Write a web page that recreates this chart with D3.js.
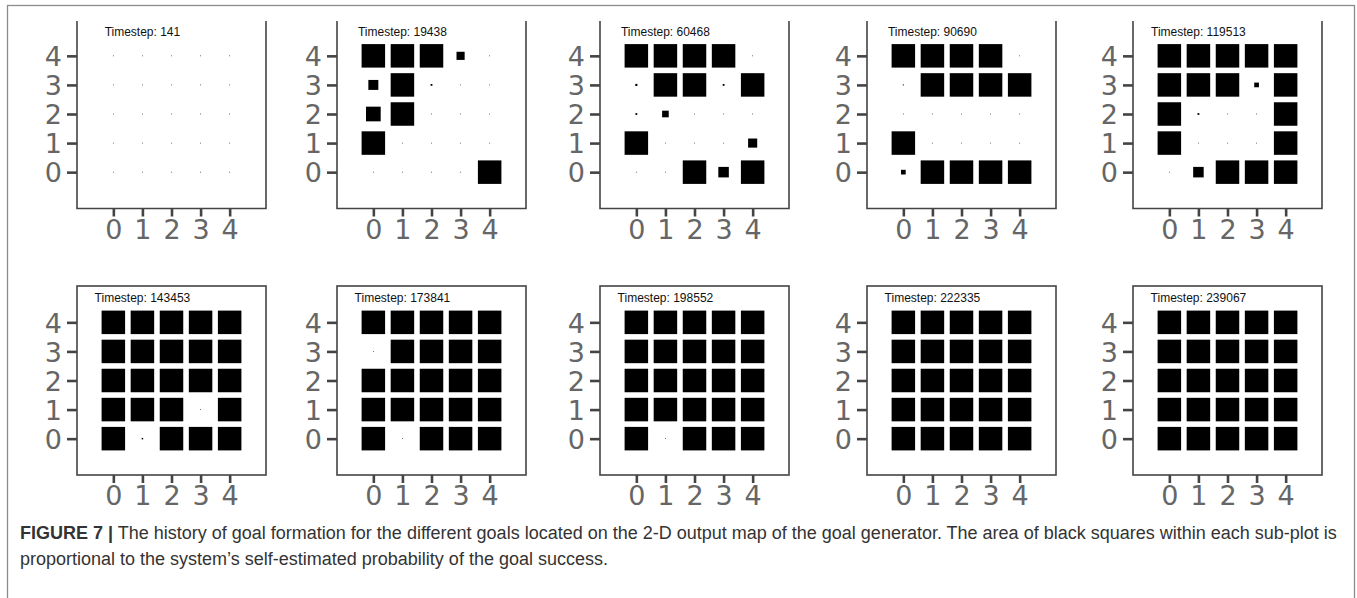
<!DOCTYPE html>
<html>
<head>
<meta charset="utf-8">
<script src="https://cdn.jsdelivr.net/npm/d3@7"></script>
<style>
  html, body { margin: 0; padding: 0; background: #fff; }
  svg { display: block; }
</style>
</head>
<body>
<svg id="chart" width="1357" height="598"></svg>
<script>
// ---------------- DATA ----------------
const timesteps = [141, 19438, 60468, 90690, 119513, 143453, 173841, 198552, 222335, 239067];
const xTicks = [0, 1, 2, 3, 4];
const yTicks = [0, 1, 2, 3, 4];
// grid rows listed from y = 4 (top) down to y = 0; columns x = 0..4
const gridRowsY = [4, 3, 2, 1, 0];
const gridColsX = [0, 1, 2, 3, 4];

// self-estimated probability of goal success (area of square)
const p141 = [
  [0.001, 0.001, 0.001, 0.001, 0.001],
  [0.001, 0.001, 0.001, 0.001, 0.001],
  [0.001, 0.001, 0.001, 0.001, 0.001],
  [0.001, 0.001, 0.001, 0.001, 0.001],
  [0.001, 0.001, 0.001, 0.001, 0.001]
];
const p19438 = [
  [1.00, 1.00, 1.00, 0.12, 0.001],
  [0.18, 1.00, 0.006, 0.001, 0.001],
  [0.39, 1.00, 0.001, 0.001, 0.001],
  [1.00, 0.001, 0.001, 0.001, 0.001],
  [0.001, 0.001, 0.001, 0.001, 1.00]
];
const p60468 = [
  [1.00, 1.00, 1.00, 1.00, 0.001],
  [0.008, 1.00, 1.00, 0.006, 1.00],
  [0.006, 0.08, 0.001, 0.001, 0.001],
  [1.00, 0.001, 0.001, 0.001, 0.15],
  [0.001, 0.001, 1.00, 0.20, 1.00]
];
const p90690 = [
  [1.00, 1.00, 1.00, 1.00, 0.001],
  [0.002, 1.00, 1.00, 1.00, 1.00],
  [0.001, 0.001, 0.001, 0.001, 0.001],
  [1.00, 0.001, 0.001, 0.001, 0.001],
  [0.04, 1.00, 1.00, 1.00, 1.00]
];
const p119513 = [
  [1.00, 1.00, 1.00, 1.00, 1.00],
  [1.00, 1.00, 1.00, 0.04, 1.00],
  [1.00, 0.006, 0.001, 0.001, 1.00],
  [1.00, 0.001, 0.001, 0.001, 1.00],
  [0.001, 0.20, 1.00, 1.00, 1.00]
];
const p143453 = [
  [1.00, 1.00, 1.00, 1.00, 1.00],
  [1.00, 1.00, 1.00, 1.00, 1.00],
  [1.00, 1.00, 1.00, 1.00, 1.00],
  [1.00, 1.00, 1.00, 0.001, 1.00],
  [1.00, 0.004, 1.00, 1.00, 1.00]
];
const p173841 = [
  [1.00, 1.00, 1.00, 1.00, 1.00],
  [0.001, 1.00, 1.00, 1.00, 1.00],
  [1.00, 1.00, 1.00, 1.00, 1.00],
  [1.00, 1.00, 1.00, 1.00, 1.00],
  [1.00, 0.001, 1.00, 1.00, 1.00]
];
const p198552 = [
  [1.00, 1.00, 1.00, 1.00, 1.00],
  [1.00, 1.00, 1.00, 1.00, 1.00],
  [1.00, 1.00, 1.00, 1.00, 1.00],
  [1.00, 1.00, 1.00, 1.00, 1.00],
  [1.00, 0.001, 1.00, 1.00, 1.00]
];
const p222335 = [
  [1.00, 1.00, 1.00, 1.00, 1.00],
  [1.00, 1.00, 1.00, 1.00, 1.00],
  [1.00, 1.00, 1.00, 1.00, 1.00],
  [1.00, 1.00, 1.00, 1.00, 1.00],
  [1.00, 1.00, 1.00, 1.00, 1.00]
];
const p239067 = [
  [1.00, 1.00, 1.00, 1.00, 1.00],
  [1.00, 1.00, 1.00, 1.00, 1.00],
  [1.00, 1.00, 1.00, 1.00, 1.00],
  [1.00, 1.00, 1.00, 1.00, 1.00],
  [1.00, 1.00, 1.00, 1.00, 1.00]
];
const panelData = [p141, p19438, p60468, p90690, p119513, p143453, p173841, p198552, p222335, p239067];

const captionBold = "FIGURE 7 |";
const captionLine1 = " The history of goal formation for the different goals located on the 2-D output map of the goal generator. The area of black squares within each sub-plot is";
const captionLine2 = "proportional to the system\u2019s self-estimated probability of the goal success.";

// ---------------- LAYOUT ----------------
const panelLefts = [77, 337, 600, 867, 1133];
const rowTops = [19.5, 286];
const frame = 189;
const svg = d3.select("#chart");

// outer figure border
svg.append("rect")
  .attr("x", 7.5).attr("y", 5.5)
  .attr("width", 1347).attr("height", 640)
  .attr("fill", "none").attr("stroke", "#8c8c8c").attr("stroke-width", 1.3);

const x = d3.scaleLinear().domain([-1.25, 5.25]).range([0, frame]);
const y = d3.scaleLinear().domain([-1.25, 5.25]).range([frame, 0]);
const side = d3.scaleSqrt().domain([0, 1]).range([0, 23.5]);

timesteps.forEach((ts, i) => {
  const row = Math.floor(i / 5), col = i % 5;
  const g = svg.append("g")
    .attr("transform", `translate(${panelLefts[col]},${rowTops[row]})`);

  // frame
  if (row === 0) {
    g.append("path")
      .attr("d", `M0,1.5V${frame}H${frame}V1.5`)
      .attr("fill", "none").attr("stroke", "#444").attr("stroke-width", 1.6);
  } else {
    g.append("rect")
      .attr("x", 0).attr("y", 0).attr("width", frame).attr("height", frame)
      .attr("fill", "none").attr("stroke", "#444").attr("stroke-width", 1.6);
  }

  // squares
  const cells = [];
  panelData[i].forEach((r, ri) => r.forEach((v, ci) => cells.push({ gx: gridColsX[ci], gy: gridRowsY[ri], p: v })));
  g.selectAll("rect.cell").data(cells).enter().append("rect")
    .attr("class", "cell")
    .attr("x", d => x(d.gx) - side(d.p) / 2)
    .attr("y", d => y(d.gy) - side(d.p) / 2)
    .attr("width", d => side(d.p))
    .attr("height", d => side(d.p))
    .attr("fill", "#000");

  // title
  g.append("text")
    .attr("x", x(1)).attr("y", 16)
    .attr("text-anchor", "middle")
    .attr("font-family", "'Liberation Sans', Arial, sans-serif")
    .attr("font-size", 12).attr("fill", "#111")
    .text("Timestep: " + ts);

  // axes
  const ax = g.append("g").attr("transform", `translate(0,${frame})`)
    .call(d3.axisBottom(x).tickValues(xTicks).tickSize(8).tickPadding(3).tickFormat(d3.format("d")));
  const ay = g.append("g")
    .call(d3.axisLeft(y).tickValues(yTicks).tickSize(10).tickPadding(5).tickFormat(d3.format("d")));
  [ax, ay].forEach(a => {
    a.attr("font-family", null).attr("font-size", null);
    a.select(".domain").remove();
    a.selectAll(".tick line").attr("stroke", "#444").attr("stroke-width", 2.6);
    a.selectAll(".tick text")
      .style("font-family", "'DejaVu Sans', Verdana, sans-serif")
      .style("font-size", "27px").attr("fill", "#666");
  });
  ay.selectAll(".tick text").attr("dy", "0.36em");
});

// caption
const cap = svg.append("g").attr("font-family", "'Liberation Sans', Arial, sans-serif").attr("fill", "#333");
const t1 = cap.append("text").attr("x", 20).attr("y", 539).attr("font-size", 15);
t1.append("tspan").attr("font-weight", "bold").text(captionBold);
t1.append("tspan").text(captionLine1);
const t2 = cap.append("text").attr("x", 20).attr("y", 565).attr("font-size", 15).text(captionLine2);
const len = t1.node().getComputedTextLength();
const fs = 15 * 1317 / len;
t1.attr("font-size", fs);
t2.attr("font-size", fs);
</script>
</body>
</html>
